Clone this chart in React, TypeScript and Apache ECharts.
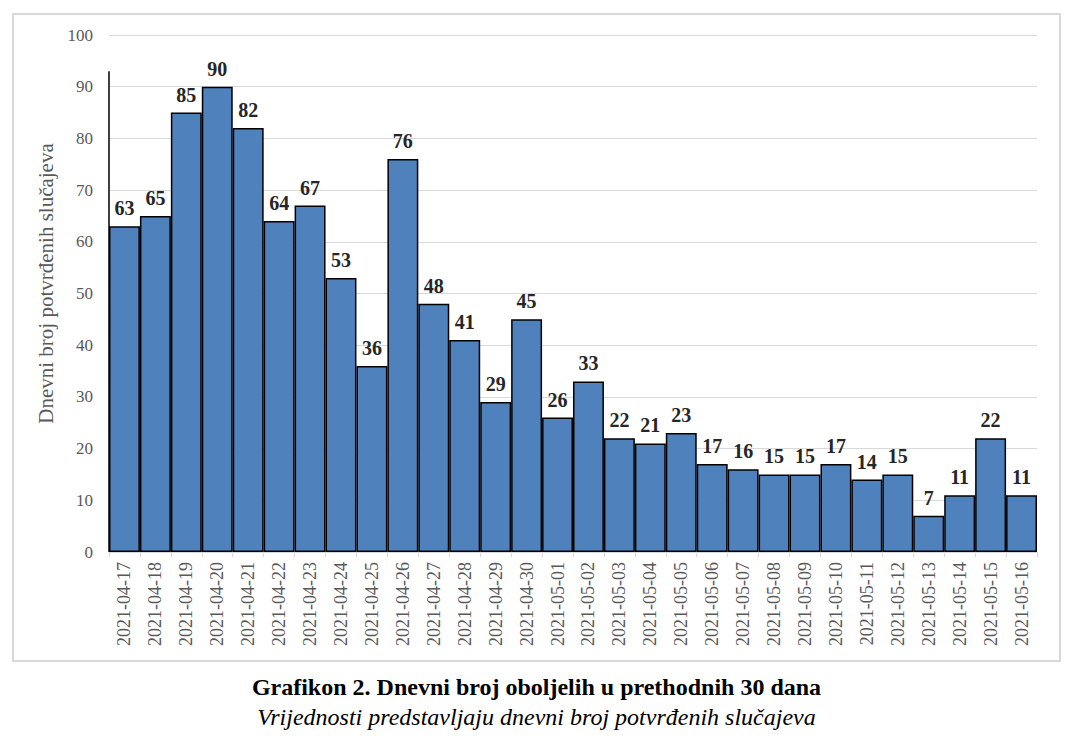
import React, { useEffect, useRef } from "react";
import * as echarts from "echarts";

const categories = [
  "2021-04-17", "2021-04-18", "2021-04-19", "2021-04-20", "2021-04-21", "2021-04-22",
  "2021-04-23", "2021-04-24", "2021-04-25", "2021-04-26", "2021-04-27", "2021-04-28",
  "2021-04-29", "2021-04-30", "2021-05-01", "2021-05-02", "2021-05-03", "2021-05-04",
  "2021-05-05", "2021-05-06", "2021-05-07", "2021-05-08", "2021-05-09", "2021-05-10",
  "2021-05-11", "2021-05-12", "2021-05-13", "2021-05-14", "2021-05-15", "2021-05-16",
];
const dailyCases = [
  63, 65, 85, 90, 82, 64, 67, 53, 36, 76, 48, 41, 29, 45, 26, 33, 22, 21, 23, 17,
  16, 15, 15, 17, 14, 15, 7, 11, 22, 11,
];
const yTicks = [0, 10, 20, 30, 40, 50, 60, 70, 80, 90, 100];

const titleText = "Grafikon 2. Dnevni broj oboljelih u prethodnih 30 dana";
const subtitleText = "Vrijednosti predstavljaju dnevni broj potvrđenih slučajeva";
const yAxisName = "Dnevni broj potvrđenih slučajeva";

const SERIF = "'Liberation Serif', 'Times New Roman', serif";

export default function App() {
  const ref = useRef<HTMLDivElement>(null);
  useEffect(() => {
    document.body.style.margin = "0";
    if (!ref.current) return;
    const chart = echarts.init(ref.current, undefined, { renderer: "svg" });
    const gridLeft = 109;
    const boxRect = {
      type: "rect",
      shape: { x: 13, y: 14, width: 1047, height: 647 },
      style: { fill: "none", stroke: "#D9D9D9", lineWidth: 2 },
      silent: true,
    };
    const option: any = {
      animation: false,
      backgroundColor: "#ffffff",
      title: [
        {
          text: titleText,
          left: "center",
          top: 670,
          textStyle: { fontFamily: SERIF, fontWeight: "bold", fontSize: 24, color: "#000" },
        },
        {
          text: subtitleText,
          left: "center",
          top: 700,
          textStyle: { fontFamily: SERIF, fontStyle: "italic", fontWeight: "normal", fontSize: 24, color: "#000" },
        },
      ],
      grid: { left: gridLeft, right: 36, top: 35, bottom: 187, containLabel: false },
      xAxis: {
        type: "category",
        data: categories,
        axisLine: { show: true, lineStyle: { color: "#D9D9D9", width: 1 } },
        axisTick: { show: true, alignWithLabel: false, length: 5, lineStyle: { color: "#D9D9D9" } },
        axisLabel: {
          rotate: 90,
          interval: 0,
          margin: 10,
          fontFamily: SERIF,
          fontSize: 18,
          color: "#595959",
        },
      },
      yAxis: {
        type: "value",
        min: yTicks[0],
        max: yTicks[yTicks.length - 1],
        interval: 10,
        name: yAxisName,
        nameLocation: "middle",
        nameRotate: 90,
        nameGap: 52,
        nameTextStyle: { fontFamily: SERIF, fontSize: 21, color: "#595959", padding: [0, 0, 0, 20] },
        axisLine: { show: false },
        axisTick: { show: false },
        axisLabel: { fontFamily: SERIF, fontSize: 17, color: "#595959", margin: 16 },
        splitLine: { show: true, lineStyle: { color: "#D9D9D9", width: 1 } },
      },
      series: [
        {
          type: "bar",
          data: dailyCases,
          barCategoryGap: "0%",
          itemStyle: { color: "#4F81BD", borderColor: "#000", borderWidth: 1.5 },
          label: {
            show: true,
            position: "top",
            distance: 8,
            fontFamily: SERIF,
            fontWeight: "bold",
            fontSize: 20,
            color: "#262626",
          },
        },
      ],
      graphic: [boxRect],
    };
    chart.setOption(option);
    const top = chart.convertToPixel({ yAxisIndex: 0 }, 93) as number;
    const bottom = chart.convertToPixel({ yAxisIndex: 0 }, 0) as number;
    chart.setOption({
      graphic: [
        boxRect,
        {
          type: "line",
          shape: { x1: gridLeft, y1: top, x2: gridLeft, y2: bottom },
          style: { stroke: "#000", lineWidth: 1.5 },
          z: 100,
          silent: true,
        },
      ],
    });
    return () => chart.dispose();
  }, []);
  return <div ref={ref} style={{ width: 1073, height: 739 }} />;
}
